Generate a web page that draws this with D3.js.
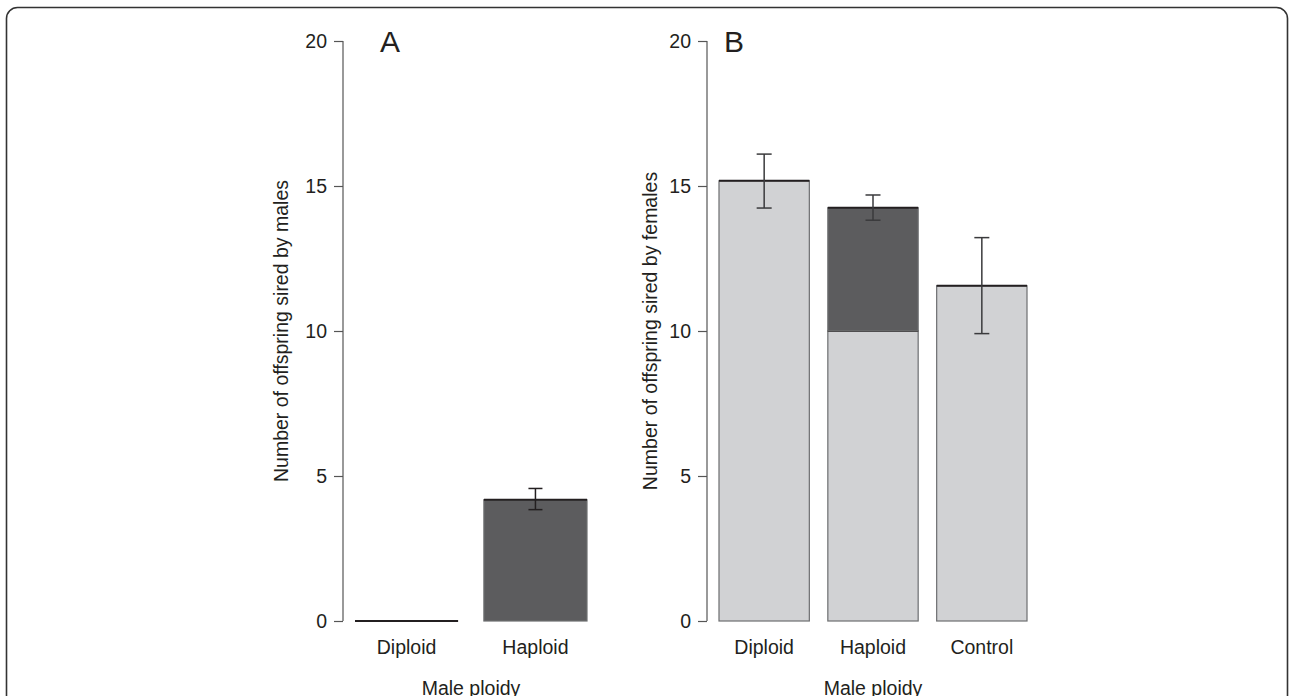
<!DOCTYPE html>
<html>
<head>
<meta charset="utf-8">
<script src="https://cdn.jsdelivr.net/npm/d3@7"></script>
<style>
  body { margin: 0; background: #fff; }
  text { font-family: "Liberation Sans", Arial, Helvetica, sans-serif; fill: #231f20; }
</style>
</head>
<body>
<div id="chart"></div>
<script>
// panel A - offspring sired by males
var catsA = ["Diploid", "Haploid"];
var valuesA = [0, 4.18];
var errLoA = [null, 3.84];
var errHiA = [null, 4.57];

// panel B - offspring sired by females (light = own, dark = extra part)
var catsB = ["Diploid", "Haploid", "Control"];
var lowerB = [15.18, 10.0, 11.56];
var upperB = [0, 4.25, 0];
var errLoB = [14.24, 13.82, 9.91];
var errHiB = [16.1, 14.69, 13.22];

var yTicks = [0, 5, 10, 15, 20];

var width = 1290, height = 696;
var light = "#d1d2d4", dark = "#5c5c5e";
var fs = 19.5;

var svg = d3.select("#chart").append("svg")
    .attr("width", width)
    .attr("height", height);

// rounded frame, runs off the right / bottom edge
svg.append("rect")
    .attr("x", 6.5).attr("y", 7.5)
    .attr("width", 1281).attr("height", 740)
    .attr("rx", 11).attr("ry", 11)
    .attr("fill", "none")
    .attr("stroke", "#333")
    .attr("stroke-width", 1.6);

var y = d3.scaleLinear().domain([0, 20]).range([621, 41]);

function drawAxis(axisX, label, labelX, letter, letterX) {
    var g = svg.append("g").attr("transform", "translate(" + axisX + ",0)");
    g.call(d3.axisLeft(y).tickValues(yTicks).tickSize(9).tickPadding(7));
    g.select(".domain").remove();
    g.append("line")
        .attr("x1", 0).attr("x2", 0)
        .attr("y1", y(0)).attr("y2", y(20))
        .attr("stroke", "#555").attr("stroke-width", 1.2);
    g.selectAll(".tick line").attr("stroke", "#555").attr("stroke-width", 1.2);
    g.selectAll(".tick text")
        .attr("font-size", fs)
        .style("font-family", "'Liberation Sans', Arial, sans-serif")
        .attr("fill", "#231f20");

    svg.append("text")
        .attr("transform", "translate(" + labelX + ",331) rotate(-90)")
        .attr("text-anchor", "middle")
        .attr("dy", "0.35em")
        .attr("font-size", fs)
        .text(label);

    svg.append("text")
        .attr("x", letterX).attr("y", 52)
        .attr("text-anchor", "middle")
        .attr("font-size", 30)
        .text(letter);
}

function drawXLabels(x, cats) {
    svg.selectAll(null)
        .data(cats)
        .enter()
        .append("text")
        .attr("x", function (d) { return x(d) + x.bandwidth() / 2; })
        .attr("y", 654)
        .attr("text-anchor", "middle")
        .attr("font-size", fs)
        .text(function (d) { return d; });

    var r = x.range();
    svg.append("text")
        .attr("x", (r[0] + r[1]) / 2)
        .attr("y", 695)
        .attr("text-anchor", "middle")
        .attr("font-size", fs)
        .text("Male ploidy");
}

function errorBar(cx, lo, hi, cap, color) {
    var g = svg.append("g").attr("stroke", color).attr("stroke-width", 1.5);
    g.append("line").attr("x1", cx).attr("x2", cx).attr("y1", y(lo)).attr("y2", y(hi));
    g.append("line").attr("x1", cx - cap / 2).attr("x2", cx + cap / 2).attr("y1", y(lo)).attr("y2", y(lo));
    g.append("line").attr("x1", cx - cap / 2).attr("x2", cx + cap / 2).attr("y1", y(hi)).attr("y2", y(hi));
}

// bar: fill, gray sides, dark top edge
function bar(x0, w, v0, v1, fill) {
    svg.append("rect")
        .attr("x", x0).attr("y", y(v1))
        .attr("width", w).attr("height", y(v0) - y(v1))
        .attr("fill", fill)
        .attr("stroke", "#6d6e70").attr("stroke-width", 1.2);
    svg.append("line")
        .attr("x1", x0).attr("x2", x0 + w)
        .attr("y1", y(v1)).attr("y2", y(v1))
        .attr("stroke", "#231f20").attr("stroke-width", 2);
}

// ---- Panel A
var xA = d3.scaleBand().domain(catsA).range([355, 587]).paddingInner(0.2).paddingOuter(0);
drawAxis(343, "Number of offspring sired by males", 281, "A", 390);

catsA.forEach(function (c, i) {
    if (valuesA[i] > 0) {
        bar(xA(c), xA.bandwidth(), 0, valuesA[i], dark);
    } else {
        svg.append("line")
            .attr("x1", xA(c)).attr("x2", xA(c) + xA.bandwidth())
            .attr("y1", y(0)).attr("y2", y(0))
            .attr("stroke", "#231f20").attr("stroke-width", 2);
    }
    if (errLoA[i] != null) {
        errorBar(xA(c) + xA.bandwidth() / 2, errLoA[i], errHiA[i], 14, "#231f20");
    }
});
drawXLabels(xA, catsA);

// ---- Panel B
var xB = d3.scaleBand().domain(catsB).range([719, 1027]).paddingInner(0.17).paddingOuter(0);
drawAxis(707, "Number of offspring sired by females", 650, "B", 734);

catsB.forEach(function (c, i) {
    bar(xB(c), xB.bandwidth(), 0, lowerB[i], light);
    if (upperB[i] > 0) {
        bar(xB(c), xB.bandwidth(), lowerB[i], lowerB[i] + upperB[i], dark);
    }
    errorBar(xB(c) + xB.bandwidth() / 2, errLoB[i], errHiB[i], 15, "#3a3a3c");
});
drawXLabels(xB, catsB);
</script>
</body>
</html>
